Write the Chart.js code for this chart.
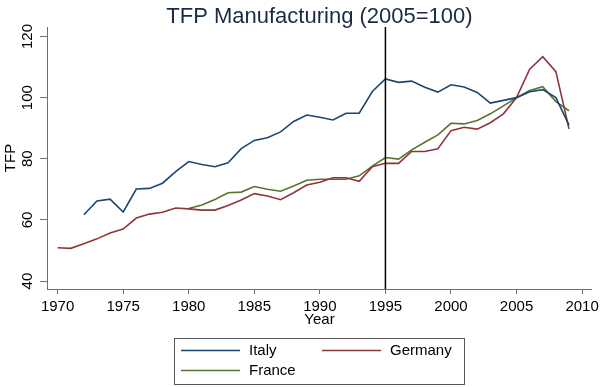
<!DOCTYPE html>
<html>
<head>
<meta charset="utf-8">
<script src="https://cdn.jsdelivr.net/npm/chart.js@4/dist/chart.umd.min.js"></script>
<style>
  html, body { margin: 0; padding: 0; background: #ffffff; }
  #wrap { width: 603px; height: 387px; }
</style>
</head>
<body>
<div id="wrap"><canvas id="c" width="603" height="387"></canvas></div>
<script>
// ---- data ----
const years = [1970,1971,1972,1973,1974,1975,1976,1977,1978,1979,
               1980,1981,1982,1983,1984,1985,1986,1987,1988,1989,
               1990,1991,1992,1993,1994,1995,1996,1997,1998,1999,
               2000,2001,2002,2003,2004,2005,2006,2007,2008,2009];
const italy = [null,null,61.7,66.2,66.8,62.6,70.1,70.3,72.0,75.8,
               79.1,78.1,77.4,78.7,83.3,86.0,86.9,88.8,92.2,94.3,
               93.6,92.7,94.9,94.9,102.0,106.1,105.0,105.4,103.4,101.8,
               104.2,103.5,101.7,98.2,99.1,100.0,101.9,102.6,100.0,91.0];
const germany = [50.9,50.7,52.2,53.8,55.7,57.0,60.6,61.9,62.5,63.9,
                 63.6,63.2,63.2,64.7,66.5,68.6,67.8,66.6,68.9,71.4,
                 72.3,73.8,73.8,72.6,77.4,78.5,78.5,82.4,82.4,83.3,
                 89.2,90.3,89.7,91.8,94.7,100.0,109.3,113.4,108.5,89.8];
const france = [null,null,null,null,null,null,null,null,null,null,
                63.7,64.9,66.7,68.9,69.1,70.9,70.0,69.4,71.1,73.0,
                73.3,73.3,73.3,74.4,77.6,80.4,79.9,82.9,85.4,87.8,
                91.6,91.4,92.5,94.7,97.3,100.0,102.3,103.6,98.7,95.7];
const seriesNames = ["Italy", "Germany", "France"];
const xTicks = [1970,1975,1980,1985,1990,1995,2000,2005,2010];
const yTicks = [40,60,80,100,120];
const markerYear = 1995;
const chartTitle = "TFP Manufacturing (2005=100)";
const xTitle = "Year";
const yTitle = "TFP";

// ---- styles ----
const FONT = '"Liberation Sans", Arial, sans-serif';
const colors = ["#1a476f", "#90353b", "#55752f"];
const axisColor = "#6e6e6e";

const toPts = arr => years.map((yr, i) => ({ x: yr, y: arr[i] }));
const seriesData = [italy, germany, france];

const decor = {
  id: 'decor',
  afterDatasetsDraw(chart) {
    const { ctx, chartArea, scales } = chart;
    const px = scales.x.getPixelForValue(markerYear);
    ctx.save();
    ctx.strokeStyle = "#000";
    ctx.lineWidth = 1.5;
    ctx.beginPath();
    ctx.moveTo(px, chartArea.top);
    ctx.lineTo(px, chartArea.bottom);
    ctx.stroke();
    ctx.restore();
  },
  afterDraw(chart) {
    const { ctx, chartArea } = chart;
    const cx = (chartArea.left + chartArea.right) / 2;
    ctx.save();
    // title
    ctx.fillStyle = "#1b2a44";
    ctx.font = '22px ' + FONT;
    ctx.textAlign = 'center';
    ctx.textBaseline = 'alphabetic';
    ctx.fillText(chartTitle, cx, 23);
    // legend box
    const w = 290, h = 46;
    const lx = Math.round(cx - w / 2) + 0.5, ly = 338.5;
    ctx.strokeStyle = "#555";
    ctx.lineWidth = 1;
    ctx.strokeRect(lx, ly, w, h);
    ctx.font = '15px ' + FONT;
    ctx.textAlign = 'left';
    ctx.textBaseline = 'middle';
    chart.data.datasets.forEach((ds, i) => {
      const col = i % 2, row = Math.floor(i / 2);
      const x0 = lx + 6.5 + col * 141;
      const yy = ly + 12 + row * 20;
      ctx.strokeStyle = ds.borderColor;
      ctx.lineWidth = 1.6;
      ctx.beginPath();
      ctx.moveTo(x0, yy);
      ctx.lineTo(x0 + 59, yy);
      ctx.stroke();
      ctx.fillStyle = "#000";
      ctx.fillText(ds.label, x0 + 68, yy + 0.5);
    });
    ctx.restore();
  }
};

new Chart(document.getElementById('c'), {
  type: 'line',
  data: {
    datasets: seriesData.map((arr, i) => ({
      label: seriesNames[i],
      data: toPts(arr),
      borderColor: colors[i],
      backgroundColor: colors[i],
      borderWidth: 1.6,
      pointRadius: 0,
      tension: 0,
      fill: false,
      spanGaps: false
    }))
  },
  options: {
    responsive: false,
    devicePixelRatio: 1,
    animation: false,
    layout: { padding: { top: 27, right: 11, bottom: 58, left: 0 } },
    plugins: { legend: { display: false }, title: { display: false }, tooltip: { enabled: false } },
    scales: {
      x: {
        type: 'linear',
        min: 1969.19,
        max: 2010.75,
        afterBuildTicks: s => { s.ticks = xTicks.map(v => ({ value: v })); },
        afterFit: s => { s.height = 40; },
        grid: { drawOnChartArea: false, drawTicks: true, tickLength: 5, color: axisColor, lineWidth: 1 },
        border: { display: true, color: axisColor, width: 1 },
        ticks: { font: { family: FONT, size: 15 }, color: '#000', padding: 4, autoSkip: false, maxRotation: 0, minRotation: 0,
                 callback: v => String(v) },
        title: { display: true, text: xTitle, font: { family: FONT, size: 15 }, color: '#000', padding: { top: 0, bottom: 0 } }
      },
      y: {
        type: 'linear',
        min: 37.4,
        max: 123.1,
        afterBuildTicks: s => { s.ticks = yTicks.map(v => ({ value: v })); },
        afterFit: s => { s.width = 47; },
        grid: { drawOnChartArea: false, drawTicks: true, tickLength: 7, color: axisColor, lineWidth: 1 },
        border: { display: true, color: axisColor, width: 1 },
        ticks: { font: { family: FONT, size: 15 }, color: '#000', padding: 0, autoSkip: false, minRotation: 90, maxRotation: 90, crossAlign: 'center',
                 callback: v => String(v) },
        title: { display: true, text: yTitle, font: { family: FONT, size: 15 }, color: '#000', padding: { top: 2, bottom: 0 } }
      }
    }
  },
  plugins: [decor]
});
</script>
</body>
</html>
